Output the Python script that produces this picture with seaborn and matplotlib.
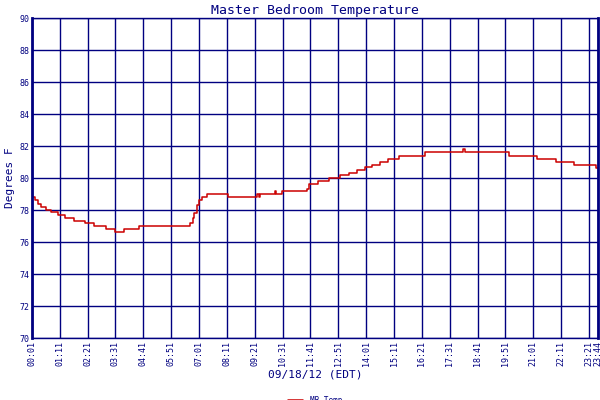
import matplotlib
matplotlib.use("Agg")
import matplotlib.pyplot as plt
import seaborn as sns
import pandas as pd

minutes = [1, 9, 17, 25, 36, 50, 66, 84, 107, 134, 157, 187, 210, 232, 270, 398, 405, 409, 416, 421, 428, 440,
           493, 568, 571, 575, 611, 614, 630, 692, 698, 720, 747, 775, 798, 818, 838, 856, 877, 896, 923, 988,
           1084, 1090, 1200, 1269, 1318, 1363, 1418, 1424]
temps = [78.8, 78.6, 78.4, 78.2, 78.0, 77.9, 77.7, 77.5, 77.3, 77.2, 77.0, 76.8, 76.6, 76.8, 77.0, 77.2, 77.5, 77.8, 78.3, 78.6, 78.8, 79.0,
         78.8, 79.0, 78.8, 79.0, 79.2, 79.0, 79.2, 79.3, 79.6, 79.8, 80.0, 80.2, 80.3, 80.5, 80.7, 80.8, 81.0, 81.2, 81.4, 81.6,
         81.8, 81.6, 81.4, 81.2, 81.0, 80.8, 80.6, 80.6]
tick_pos = [1, 71, 141, 211, 281, 351, 421, 491, 561, 631, 701, 771, 841, 911, 981, 1051, 1121, 1191, 1261, 1331, 1401, 1424]
tick_labels = ["00:01", "01:11", "02:21", "03:31", "04:41", "05:51", "07:01", "08:11", "09:21", "10:31", "11:41",
               "12:51", "14:01", "15:11", "16:21", "17:31", "18:41", "19:51", "21:01", "22:11", "23:21", "23:44"]
yticks = list(range(70, 91, 2))

navy = "#000080"
sns.set_style("white")
plt.rcParams['font.family'] = ['DejaVu Sans Mono', 'DejaVu Sans']

fig = plt.figure(figsize=(6, 4), dpi=100)
ax = fig.add_axes([0.053, 0.155, 0.944, 0.80])
df = pd.DataFrame({"t": minutes, "v": temps})
sns.lineplot(data=df, x="t", y="v", ax=ax, color="#cc0000", lw=1.1, drawstyle="steps-post", label="MB Temp")
ax.set_xlim(1, 1424)
ax.set_ylim(70, 90)
ax.set_xticks(tick_pos)
ax.set_xticklabels(tick_labels, rotation=90, fontsize=6, color=navy)
ax.set_yticks(yticks)
ax.set_yticklabels([str(y) for y in yticks], fontsize=6, color=navy)
ax.grid(True, color=navy, lw=1)
ax.tick_params(length=0, pad=2)
for s in ax.spines.values():
    s.set_color(navy); s.set_linewidth(1)
ax.spines["left"].set_linewidth(2)
ax.spines["right"].set_linewidth(2)
ax.set_xlabel("09/18/12 (EDT)", fontsize=8, color=navy, labelpad=3)
ax.set_ylabel("Degrees F", fontsize=8, color=navy, labelpad=3)
ax.set_title("Master Bedroom Temperature", fontsize=9.5, color=navy, pad=3)
ax.legend(loc="upper center", bbox_to_anchor=(0.5, -0.165), frameon=False, fontsize=5.5,
          handlelength=2, labelcolor=navy, borderpad=0.2)
fig.savefig("out.png", dpi=100, facecolor="white")
